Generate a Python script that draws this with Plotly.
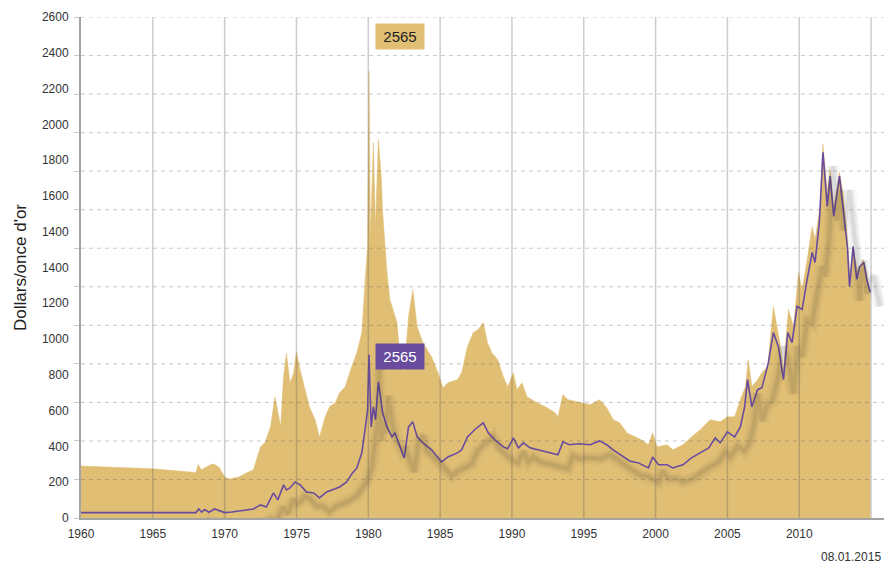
import plotly.graph_objects as go

# ---------------- data ----------------
gold_years = [1960.0, 1965.0, 1968.0, 1968.15, 1968.4, 1968.7, 1969.2, 1969.6, 1970.0, 1970.3,
              1971.0, 1971.5, 1972.0, 1972.5, 1972.8, 1973.2, 1973.5, 1973.9, 1974.1, 1974.3,
              1974.55, 1974.8, 1975.0, 1975.25, 1975.6, 1975.9, 1976.3, 1976.6, 1977.0, 1977.3,
              1977.7, 1978.0, 1978.4, 1978.7, 1979.2, 1979.55, 1979.8, 1979.95, 1980.05, 1980.15,
              1980.35, 1980.5, 1980.7, 1980.9, 1981.0, 1981.3, 1981.5, 1981.7, 1982.0, 1982.2,
              1982.5, 1982.8, 1983.1, 1983.4, 1983.8, 1984.4, 1984.85, 1985.2, 1985.55, 1986.2,
              1986.5, 1986.9, 1987.3, 1987.65, 1988.0, 1988.3, 1988.6, 1989.0, 1989.4, 1989.7,
              1990.1, 1990.35, 1990.7, 1991.05, 1991.75, 1992.45, 1993.0, 1993.2, 1993.55, 1993.9,
              1994.5, 1994.95, 1995.45, 1996.1, 1996.6, 1997.05, 1997.5, 1998.0, 1998.6, 1999.0,
              1999.5, 1999.8, 2000.1, 2000.8, 2001.2, 2001.9, 2002.5, 2003.1, 2003.8, 2004.5,
              2005.0, 2005.5, 2005.9, 2006.25, 2006.45, 2006.7, 2007.1, 2007.4, 2007.8, 2008.2,
              2008.7, 2008.9, 2009.25, 2009.6, 2009.95, 2010.2, 2010.55, 2010.9, 2011.1, 2011.45,
              2011.65, 2011.95, 2012.15, 2012.4, 2012.8, 2013.05, 2013.35, 2013.55, 2013.75, 2014.1,
              2014.45, 2014.7, 2014.95]
gold_values = [270, 255, 236, 276, 250, 265, 281, 265, 213, 203,
               213, 234, 250, 370, 390, 475, 630, 475, 735, 856,
               700, 752, 862, 770, 665, 577, 510, 420, 525, 577,
               598, 650, 681, 754, 858, 962, 1253, 1409, 2319, 1445,
               1950, 1513, 1965, 1774, 1586, 1274, 1134, 1082, 1014, 837,
               754, 1045, 1186, 993, 910, 837, 754, 676, 702, 718,
               754, 889, 962, 978, 1014, 910, 858, 822, 733, 681,
               754, 666, 702, 629, 598, 572, 546, 525, 640, 614,
               603, 598, 588, 614, 572, 510, 494, 442, 421, 406,
               380, 442, 369, 380, 354, 380, 421, 458, 510, 499,
               525, 525, 614, 681, 822, 681, 718, 754, 785, 1098,
               889, 770, 1082, 993, 1274, 1186, 1342, 1513, 1445, 1617,
               1940, 1690, 1810, 1617, 1794, 1690, 1461, 1238, 1394, 1274,
               1342, 1274, 1149]

nominal_years = [1960.0, 1968.0, 1968.2, 1968.4, 1968.6, 1968.9, 1969.3, 1969.7, 1970.0, 1970.5,
                 1971.0, 1971.5, 1972.0, 1972.5, 1972.9, 1973.4, 1973.7, 1974.1, 1974.3, 1974.55,
                 1974.9, 1975.25, 1975.7, 1976.2, 1976.6, 1977.1, 1977.5, 1978.0, 1978.5, 1978.9,
                 1979.2, 1979.55, 1979.8, 1979.95, 1980.05, 1980.2, 1980.35, 1980.5, 1980.7, 1980.9,
                 1981.0, 1981.3, 1981.65, 1981.85, 1982.1, 1982.5, 1982.8, 1983.1, 1983.4, 1983.8,
                 1984.4, 1985.1, 1985.55, 1986.2, 1986.5, 1986.9, 1987.4, 1988.0, 1988.35, 1988.8,
                 1989.4, 1989.7, 1990.1, 1990.45, 1990.8, 1991.25, 1991.8, 1992.45, 1993.0, 1993.2,
                 1993.55, 1994.0, 1994.7, 1995.45, 1996.1, 1996.6, 1997.05, 1997.75, 1998.2, 1998.8,
                 1999.5, 1999.8, 2000.2, 2000.8, 2001.2, 2001.9, 2002.5, 2003.1, 2003.7, 2004.15,
                 2004.5, 2005.0, 2005.5, 2005.9, 2006.2, 2006.4, 2006.7, 2007.1, 2007.4, 2007.85,
                 2008.2, 2008.55, 2008.9, 2009.2, 2009.5, 2009.85, 2010.2, 2010.55, 2010.9, 2011.1,
                 2011.4, 2011.65, 2011.95, 2012.15, 2012.4, 2012.8, 2013.05, 2013.35, 2013.5, 2013.75,
                 2014.0, 2014.2, 2014.5, 2014.7, 2014.95]
nominal_values = [28, 28, 47, 30, 44, 30, 47, 36, 28, 31,
                  36, 40, 47, 68, 57, 130, 94, 172, 146, 156,
                  187, 172, 135, 130, 104, 135, 146, 161, 187, 234,
                  260, 338, 473, 562, 848, 473, 577, 510, 707, 598,
                  546, 473, 421, 442, 390, 312, 473, 499, 421, 390,
                  354, 291, 317, 338, 354, 421, 458, 494, 442, 406,
                  369, 359, 416, 364, 390, 364, 354, 343, 333, 328,
                  395, 380, 385, 380, 400, 380, 354, 317, 296, 286,
                  260, 317, 276, 276, 260, 276, 312, 338, 364, 416,
                  390, 447, 421, 473, 577, 718, 577, 666, 676, 806,
                  962, 889, 718, 962, 910, 1098, 1082, 1238, 1378, 1326,
                  1534, 1898, 1617, 1774, 1565, 1774, 1617, 1409, 1201, 1409,
                  1238, 1305, 1326, 1238, 1170]

year_ticks = [1960, 1965, 1970, 1975, 1980, 1985, 1990, 1995, 2000, 2005, 2010, 2015]
grid_values = [0, 200, 400, 600, 800, 1000, 1200, 1400, 1600, 1800, 2000, 2200, 2400, 2600]
y_tick_labels = ["0", "200", "400", "600", "800", "1000", "1200", "1400", "1400",
                 "1600", "1800", "2000", "2200", "2400", "2600"]
peak_label = "2565"
date_label = "08.01.2015"
y_title = "Dollars/once d'or"

# ---------------- layout constants ----------------
W, H = 884, 569
ML, MR, MT, MB = 81, 0, 17, 51
X_RANGE = [1960, 2015.9]
Y_RANGE = [0, 2600]
GOLD = "#E0BE74"
PURPLE = "#6A4C9F"
FONT = "Liberation Sans, Arial, Helvetica, sans-serif"

plot_w = W - ML - MR
plot_h = H - MT - MB
shadow_dx = 10 * (X_RANGE[1] - X_RANGE[0]) / plot_w
shadow_dy = 14 * (Y_RANGE[1] - Y_RANGE[0]) / plot_h

fig = go.Figure()

# inflation-adjusted gold area
fig.add_trace(go.Scatter(x=gold_years, y=gold_values, mode="lines", fill="tozeroy",
                         line=dict(color=GOLD, width=0.5), fillcolor=GOLD,
                         hoverinfo="skip", showlegend=False))

# blurred drop shadow of nominal line (shifted axes)
for w, a in [(13, 0.04), (8, 0.06), (4, 0.08)]:
    fig.add_trace(go.Scatter(x=nominal_years, y=nominal_values, mode="lines",
                             line=dict(color=f"rgba(40,40,40,{a})", width=w),
                             xaxis="x2", yaxis="y3", hoverinfo="skip", showlegend=False))

# nominal price line
fig.add_trace(go.Scatter(x=nominal_years, y=nominal_values, mode="lines",
                         line=dict(color=PURPLE, width=1.6),
                         xaxis="x", yaxis="y2", hoverinfo="skip", showlegend=False))

# grid lines drawn above the area
shapes = []
for yr in year_ticks[1:]:
    shapes.append(dict(type="line", xref="x", yref="paper", x0=yr, x1=yr, y0=0, y1=1,
                       line=dict(color="rgba(90,90,90,0.30)", width=1.5), layer="above"))
for gv in grid_values[1:]:
    shapes.append(dict(type="line", xref="paper", yref="y", x0=0, x1=1, y0=gv, y1=gv,
                       line=dict(color="rgba(90,90,90,0.33)", width=1, dash="4px,4px"),
                       layer="above"))

label_positions = [Y_RANGE[1] * i / (len(y_tick_labels) - 1) for i in range(len(y_tick_labels))]

fig.update_layout(
    width=W, height=H,
    margin=dict(l=ML, r=MR, t=MT, b=MB, pad=0, autoexpand=False),
    paper_bgcolor="white", plot_bgcolor="white",
    font=dict(family=FONT, size=12, color="#333"),
    shapes=shapes,
    xaxis=dict(range=X_RANGE, tickvals=year_ticks, ticktext=[str(y) for y in year_ticks],
               showgrid=False, zeroline=False, showline=True, linecolor="#a3a3a3",
               linewidth=2, ticks="outside", ticklen=4, tickcolor="rgba(0,0,0,0)",
               tickfont=dict(size=12, color="#333"), layer="above traces", automargin=False),
    yaxis=dict(range=Y_RANGE, tickvals=grid_values, showticklabels=False,
               showgrid=False, zeroline=False, showline=True, linecolor="#a3a3a3",
               linewidth=2, ticks="outside", ticklen=5, tickcolor="#c8c8c8",
               layer="above traces", automargin=False),
    yaxis2=dict(range=Y_RANGE, overlaying="y", side="left", tickvals=label_positions,
                ticktext=y_tick_labels, showgrid=False, zeroline=False, showline=False,
                ticks="outside", ticklen=9, tickcolor="rgba(0,0,0,0)",
                tickfont=dict(size=12, color="#333"), automargin=False,
                title=dict(text=y_title, font=dict(size=17, color="#222"), standoff=10)),
    xaxis2=dict(range=[X_RANGE[0] - shadow_dx, X_RANGE[1] - shadow_dx], overlaying="x",
                visible=False),
    yaxis3=dict(range=[Y_RANGE[0] + shadow_dy, Y_RANGE[1] + shadow_dy], overlaying="y",
                visible=False),
    annotations=[
        dict(x=1980.05, y=2500, xref="x", yref="y", text=peak_label, showarrow=False,
             xshift=31, bgcolor=GOLD, font=dict(size=15, color="#222"),
             borderpad=4, width=40, height=17),
        dict(x=1980.05, y=837, xref="x", yref="y2", text=peak_label, showarrow=False,
             xshift=31, bgcolor=PURPLE, font=dict(size=15, color="white"),
             borderpad=4, width=40, height=17),
        dict(x=1, y=-0.078, xref="paper", yref="paper", text=date_label, showarrow=False,
             xanchor="right", yanchor="middle", xshift=-1, font=dict(size=12, color="#333")),
    ],
)

fig.write_html("out.html", config={"displayModeBar": False},
               post_script="document.body.style.margin='0';document.body.style.overflow='hidden';")
